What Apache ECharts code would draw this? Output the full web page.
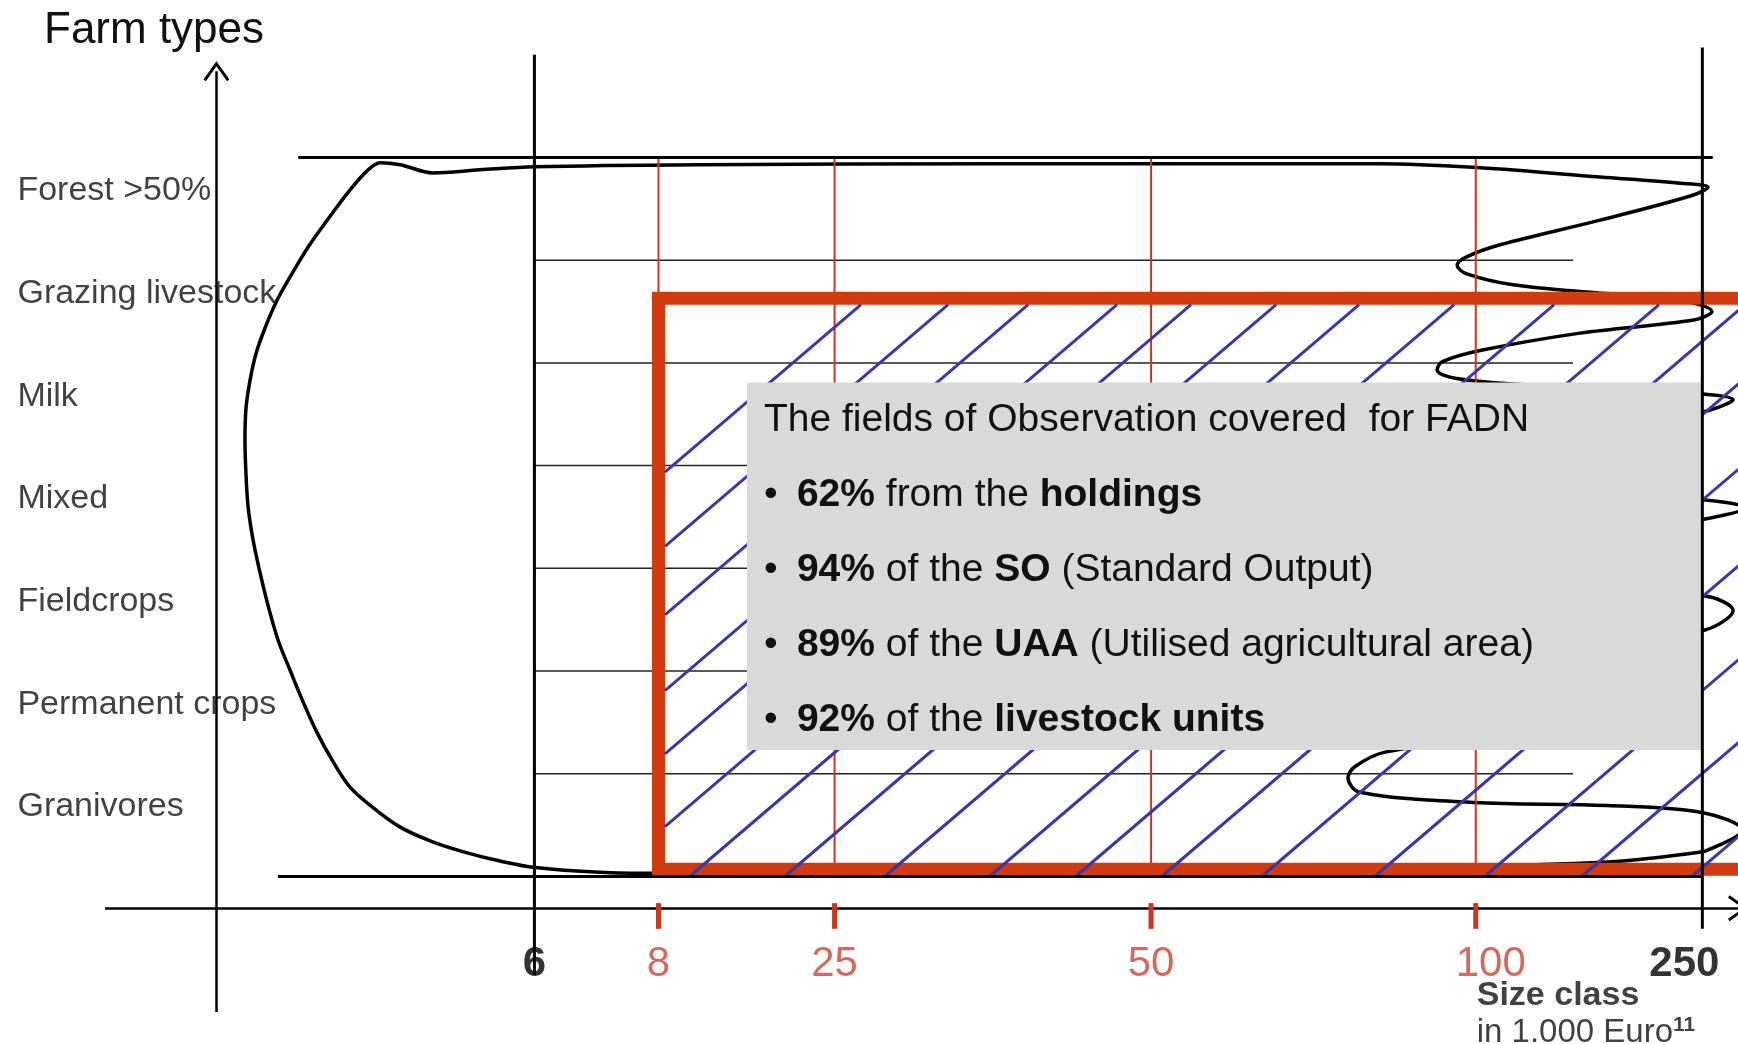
<!DOCTYPE html>
<html><head><meta charset="utf-8">
<script src="https://cdn.jsdelivr.net/npm/echarts@6/dist/echarts.min.js"></script>
<style>html,body{margin:0;padding:0;background:#fff}#c{width:1738px;height:1044px}</style>
</head><body><div id="c"></div>
<script>
// ---------- data ----------
const farmTypes = ['Granivores', 'Permanent crops', 'Fieldcrops', 'Mixed', 'Milk', 'Grazing livestock', 'Forest >50%'];
const sizeClasses = ['6', '8', '25', '50', '100', '250'];
// schematic position of each size class on the horizontal axis (250 = 100 units)
const sizeClassPos = [21.4, 29.75, 41.6, 62.9, 84.75, 100];
const axisLevel = -0.31;           // level of the size-class axis (band units)
const axisNameText = ['Size class', 'in 1.000 Euro', '11'];
// outline of the farm population (x = schematic size position, y = farm-type band units)
const farmCurve = [
  [100.05,0.24],[93.59,0.14],[79.66,0.09],[59.47,0.06],[39.28,0.04],[29.65,0.03],[25.82,0.04],[21.31,0.09],
  [19.09,0.15],[16.87,0.23],[14.51,0.34],[12.36,0.48],[10.54,0.67],[8.99,0.87],[7.84,1.12],[6.77,1.40],
  [5.83,1.70],[4.95,2.01],[4.15,2.30],[3.47,2.64],[2.93,2.96],[2.46,3.28],[2.13,3.60],[1.99,3.91],
  [1.92,4.25],[1.99,4.56],[2.26,4.83],[2.66,5.09],[3.27,5.34],[4.08,5.61],[5.09,5.87],[6.23,6.14],
  [7.51,6.40],[8.86,6.66],[10.07,6.86],[11.01,6.95],
  [12.36,6.93],[14.57,6.85],[17.73,6.88],[21.43,6.91],[32.55,6.93],[52.73,6.94],[78.31,6.94],[85.04,6.90],
  [93.12,6.81],[98.51,6.75],[100.38,6.71],[99.3,6.63],[93.12,6.39],[86.39,6.15],[84.1,6.03],[83.5,5.95],
  [84.1,5.87],[87.27,5.76],[92.23,5.69],[98.51,5.61],[100.65,5.50],[99.5,5.42],[91.77,5.29],[85.04,5.12],
  [82.48,5.01],[82.15,4.93],[83.36,4.85],[87.73,4.79],[96.48,4.73],[102.07,4.64],[100.0,4.52],[93.12,4.37],
  [83.69,4.10],[81.13,3.99],[81.8,3.89],[89.74,3.76],[99.84,3.67],[102.87,3.59],[100.18,3.48],[93.12,3.31],
  [83.69,3.10],[79.8,2.99],[80.48,2.89],[89.74,2.80],[100.18,2.73],[102.07,2.59],[100.18,2.40],[93.12,2.25],
  [83.02,2.09],[78.65,2.0],[79.32,1.90],[89.74,1.72],[98.15,1.56],[96.48,1.47],[86.39,1.35],[78.65,1.21],
  [76.63,1.07],[76.15,0.96],[76.96,0.82],[84.6,0.72],[93.59,0.69],[100.05,0.62],[102.67,0.45],[100.05,0.24]
];
// field of observation (x0, y0, x1, y1)
const fadnField = [sizeClassPos[1], 0.07, 104, 5.63];
// hatch lines: where each crosses the bottom of the field
const hatchX = [-1.11, 4.75, 10.14, 16.12, 21.1, 26.83, 32.41, 38.81, 45.54, 52.6, 58.39, 64.18, 70.91, 78.52, 85.92, 92.45, 99.85];
// note box (x0, y0, x1, y1)
const noteBox = [35.7, 1.23, 100, 4.81];
const noteTitle = 'The fields of Observation covered  for FADN';
const noteShare = ['62%', '94%', '89%', '92%'];
const noteLink = [' from the ', ' of the ', ' of the ', ' of the '];
const noteMeasure = ['holdings', 'SO', 'UAA', 'livestock units'];
const noteDetail = ['', ' (Standard Output)', ' (Utilised agricultural area)', ''];
// frame lines [x1,y1,x2,y2]
const frameLines = [
  [5.5, 7, 100.7, 7],
  [4.14, 0, 100, 0],
  [sizeClassPos[0], -0.96, sizeClassPos[0], 8.0],
  [sizeClassPos[5], -0.51, sizeClassPos[5], 8.07]
];
const bandLineEnd = 91.3;

// ---------- chart ----------
const FONT = "'Liberation Sans', Arial, Helvetica, sans-serif";
const RED = '#d13b0f', RED_THIN = '#cc3520', RED_TXT = '#c94535', HATCH = '#3a38a6', INK = '#111111';
const chart = echarts.init(document.getElementById('c'), null, {renderer: 'canvas'});

function segSeries(id, data, color, width, z) {
  return {
    type: 'custom', id, coordinateSystem: 'cartesian2d', z, silent: true, data,
    renderItem: (p, api) => {
      const a = api.coord([api.value(0), api.value(1)]);
      const b = api.coord([api.value(2), api.value(3)]);
      return {type: 'line', shape: {x1: a[0], y1: a[1], x2: b[0], y2: b[1]},
        style: {stroke: color, lineWidth: width, lineCap: 'butt'}};
    }
  };
}

const bandLines = [];
for (let i = 1; i < farmTypes.length; i++) bandLines.push([sizeClassPos[0], i, bandLineEnd, i]);
const redThin = sizeClassPos.slice(1, 5).map(x => [x, 0, x, 7]);
const redTicks = sizeClassPos.slice(1, 5).map(x => [x, -0.26, x, -0.51]);

const chevron = 'path://M0,18 L13,0 L26,18 L23.6,19.6 L13,5 L2.4,19.6 Z';

const noteText = '{h|' + noteTitle + '}\n' + noteShare.map((s, i) =>
  '{dot|•}{b|' + s + '}{n|' + noteLink[i] + '}{b|' + noteMeasure[i] + '}' +
  (noteDetail[i] ? '{n|' + noteDetail[i] + '}' : '')).join('\n');

const option = {
  animation: false,
  backgroundColor: '#ffffff',
  title: {text: 'Farm types', left: 44, top: 9, padding: 0,
    textStyle: {fontSize: 44, fontWeight: 'normal', color: INK, fontFamily: FONT}},
  grid: {left: 105, right: 0, top: 47.6, bottom: 32, containLabel: false, outerBoundsMode: 'none'},
  xAxis: {type: 'value', min: -7.5, max: 102.4, show: false},
  yAxis: {type: 'value', min: -1.32, max: 8.07, show: false},
  series: [
    segSeries('bands', bandLines, '#222', 1.5, 1),
    {type: 'line', id: 'curve', data: farmCurve, smooth: 0.35, showSymbol: false, symbol: 'none',
      lineStyle: {color: '#000', width: 3.5}, z: 2, silent: true},
    segSeries('redThin', redThin, RED_THIN, 2, 3),
    {type: 'custom', id: 'field', z: 4, silent: true, data: [fadnField],
      renderItem: (p, api) => {
        const a = api.coord([api.value(0), api.value(3)]);
        const b = api.coord([api.value(2), api.value(1)]);
        return {type: 'rect', shape: {x: a[0], y: a[1], width: b[0] - a[0], height: b[1] - a[1]},
          style: {fill: 'none', stroke: RED, lineWidth: 13}};
      }},
    {type: 'custom', id: 'hatch', z: 5, silent: true, data: hatchX.map(x => [x]),
      renderItem: (p, api) => {
        const half = 6.5, slope = 0.854;
        const pb = api.coord([api.value(0), fadnField[1]]);
        const tl = api.coord([fadnField[0], fadnField[3]]);
        const xL = tl[0] + half, yT = tl[1] + half, yB = pb[1] + half;
        let x1 = pb[0] - half / slope, y1 = yB;
        const x2 = pb[0] + (pb[1] - yT) / slope, y2 = yT;
        if (x1 < xL) { y1 = yB - (xL - x1) * slope; x1 = xL; }
        if (y1 <= y2) return null;
        return {type: 'line', shape: {x1, y1, x2, y2}, style: {stroke: HATCH, lineWidth: 3}};
      }},
    segSeries('redTicks', redTicks, RED_THIN, 5, 5),
    {type: 'custom', id: 'note', z: 6, silent: true, data: [noteBox],
      renderItem: (p, api) => {
        const a = api.coord([api.value(0), api.value(3)]);
        const b = api.coord([api.value(2), api.value(1)]);
        return {type: 'rect', shape: {x: a[0], y: a[1], width: b[0] - a[0], height: b[1] - a[1]},
          style: {fill: '#d9d9d9'},
          textContent: {style: {text: noteText, fill: INK, fontFamily: FONT, align: 'left', verticalAlign: 'top',
            rich: {
              h: {fontSize: 39, lineHeight: 75, fontFamily: FONT, fill: INK},
              n: {fontSize: 39, lineHeight: 75, fontFamily: FONT, fill: INK},
              b: {fontSize: 39, lineHeight: 75, fontWeight: 'bold', fontFamily: FONT, fill: INK},
              dot: {fontSize: 39, lineHeight: 75, width: 33, fontFamily: FONT, fill: INK}
            }}},
          textConfig: {position: [17, 0]}
        };
      }},
    Object.assign(segSeries('frame', frameLines, '#000', 3, 7), {
      markLine: {silent: true, symbol: ['none', chevron], symbolSize: [26, 20],
        lineStyle: {color: '#000', width: 2.5, type: 'solid'}, label: {show: false}, emphasis: {disabled: true},
        data: [
          [{coord: [-7.5, axisLevel]}, {coord: [102.4, axisLevel]}],
          [{coord: [0, -1.32]}, {coord: [0, 7.84]}]
        ]}
    }),
    {type: 'scatter', id: 'farmLabels', z: 8, silent: true, symbolSize: 1, itemStyle: {color: 'transparent'},
      data: farmTypes.map((n, i) => ({name: n, value: [0, i + 0.5]})),
      label: {show: true, formatter: '{b}', position: 'inside', align: 'left', verticalAlign: 'middle',
        offset: [-199, -18], fontSize: 34, color: INK, fontFamily: FONT}},
    {type: 'scatter', id: 'sizeLabels', z: 8, silent: true, symbolSize: 1, itemStyle: {color: 'transparent'},
      data: sizeClasses.map((s, i) => {
        const edge = (i === 0 || i === sizeClasses.length - 1);
        const dx = i === sizeClasses.length - 1 ? -18 : (i === sizeClasses.length - 2 ? 15 : 0);
        return {name: s, value: [sizeClassPos[i], axisLevel],
          label: {color: edge ? '#000' : RED_TXT, fontWeight: edge ? 'bold' : 'normal', offset: [dx, 56]}};
      }),
      label: {show: true, formatter: '{b}', position: 'inside', align: 'center', verticalAlign: 'middle',
        fontSize: 42, fontFamily: FONT}},
    {type: 'scatter', id: 'axisName', z: 8, silent: true, symbolSize: 1, itemStyle: {color: 'transparent'},
      data: [{name: 'size', value: [sizeClassPos[4], axisLevel]}],
      label: {show: true, position: 'inside', align: 'left', verticalAlign: 'top', offset: [1, 69],
        formatter: '{a|' + axisNameText[0] + '}\n{c|' + axisNameText[1] + '}{s|' + axisNameText[2] + '}',
        rich: {
          a: {fontSize: 34, fontWeight: 'bold', lineHeight: 37, color: INK, fontFamily: FONT},
          c: {fontSize: 33, lineHeight: 37, color: INK, fontFamily: FONT},
          s: {fontSize: 21, fontWeight: 'bold', lineHeight: 22, verticalAlign: 'top', color: INK, fontFamily: FONT}
        }}}
  ]
};
chart.setOption(option);
</script>
</body></html>
